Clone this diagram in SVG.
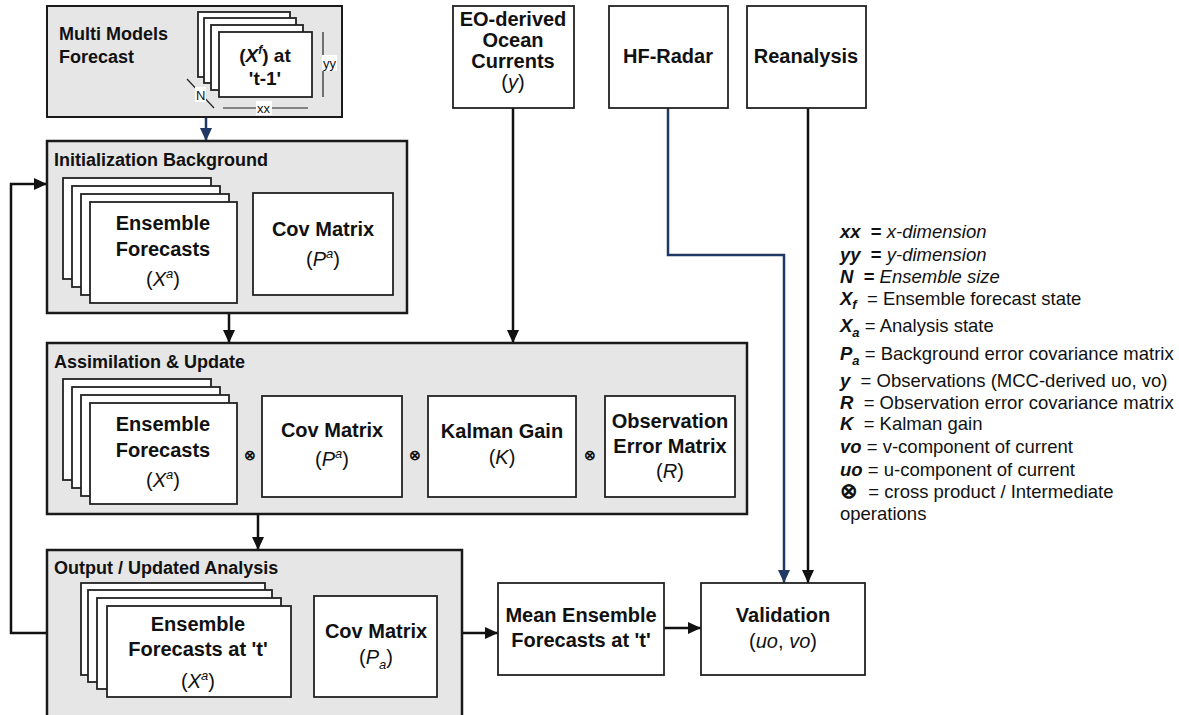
<svg xmlns="http://www.w3.org/2000/svg" width="1179" height="715" viewBox="0 0 1179 715">
<style>
text{font-family:"Liberation Sans",Arial,sans-serif;fill:#111}
.grp{fill:#e6e6e6;stroke:#1a1a1a;stroke-width:2.5}
.box{fill:#fff;stroke:#222;stroke-width:1.8}
.title{font-size:18px;font-weight:bold}
.lbl{font-size:20px;font-weight:bold;text-anchor:middle}
.sym{font-size:20px;text-anchor:middle}
.small{font-size:13px}
.otimes{font-size:14px;font-weight:bold;text-anchor:middle}
.leg{font-size:18.5px}
.leg text{white-space:pre}
.b{font-weight:bold;font-style:italic}
.it{font-style:italic}
.con{fill:none;stroke:#111;stroke-width:2.5}
.navy{fill:none;stroke:#203864;stroke-width:2.5}
.thin{stroke:#222;stroke-width:1.2;fill:none}
</style>
<defs>
<marker id="ah" markerUnits="userSpaceOnUse" markerWidth="14" markerHeight="12" refX="13" refY="6" orient="auto"><path d="M0,0 L13,6 L0,12 Z" fill="#111"/></marker>
<marker id="ahn" markerUnits="userSpaceOnUse" markerWidth="14" markerHeight="12" refX="13" refY="6" orient="auto"><path d="M0,0 L13,6 L0,12 Z" fill="#203864"/></marker>
</defs>

<g id="connectors">
<path class="navy" d="M206,117 V141" marker-end="url(#ahn)"/>
<path class="con" d="M229,313 V343" marker-end="url(#ah)"/>
<path class="con" d="M513,108 V343" marker-end="url(#ah)"/>
<path class="con" d="M258,514 V550" marker-end="url(#ah)"/>
<path class="con" d="M47,633 H11 V184 H47" marker-end="url(#ah)"/>
<path class="con" d="M462,633 H498" marker-end="url(#ah)"/>
<path class="con" d="M664,628 H701" marker-end="url(#ah)"/>
<path class="navy" d="M668,108 V255 H784 V583" marker-end="url(#ahn)"/>
<path class="con" d="M808,108 V583" marker-end="url(#ah)"/>
</g>

<g id="multi-models">
<rect class="grp" x="47" y="6" width="295" height="111" style="stroke-width:2"/>
<text class="title" x="59" y="40">Multi Models</text>
<text class="title" x="59" y="63">Forecast</text>
<rect class="box" x="198" y="12" width="92" height="65"/>
<rect class="box" x="204" y="18" width="92" height="65"/>
<rect class="box" x="211" y="25" width="92" height="65"/>
<rect class="box" x="219" y="32" width="93" height="65"/>
<text class="lbl" x="265" y="62" style="font-size:19px">(<tspan class="it">X</tspan><tspan font-size="12" dy="-8" class="it">f</tspan><tspan dy="8">) at</tspan></text>
<text class="lbl" x="265" y="85" style="font-size:19px">'t-1'</text>
<line class="thin" x1="323" y1="32" x2="323" y2="97"/>
<rect x="322" y="55" width="15" height="16" fill="#fff"/>
<text class="small" x="323" y="68">yy</text>
<line class="thin" x1="223" y1="108" x2="308" y2="108"/>
<rect x="256" y="101" width="16" height="14" fill="#fff"/>
<text class="small" x="257" y="113">xx</text>
<line class="thin" x1="187" y1="79" x2="214" y2="108"/>
<rect x="195" y="87" width="11" height="15" fill="#fff"/>
<text class="small" x="196" y="100">N</text>
</g>

<g id="init-background">
<rect class="grp" x="47" y="141" width="360" height="172"/>
<text class="title" x="54" y="166">Initialization Background</text>
<rect class="box" x="63" y="178" width="148" height="101"/>
<rect class="box" x="72" y="186" width="148" height="101"/>
<rect class="box" x="81" y="194" width="148" height="101"/>
<rect class="box" x="90" y="202" width="147" height="101"/>
<text class="lbl" x="163" y="230">Ensemble</text>
<text class="lbl" x="163" y="256">Forecasts</text>
<text class="sym" x="163" y="286">(<tspan class="it">X</tspan><tspan class="it" font-size="13" dy="-8">a</tspan><tspan dy="8">)</tspan></text>
<rect class="box" x="253" y="193" width="140" height="102"/>
<text class="lbl" x="323" y="236">Cov Matrix</text>
<text class="sym" x="323" y="266">(<tspan class="it">P</tspan><tspan class="it" font-size="13" dy="-8">a</tspan><tspan dy="8">)</tspan></text>
</g>

<g id="assimilation">
<rect class="grp" x="47" y="343" width="700" height="171"/>
<text class="title" x="54" y="368">Assimilation &amp; Update</text>
<rect class="box" x="63" y="379" width="148" height="101"/>
<rect class="box" x="72" y="387" width="148" height="101"/>
<rect class="box" x="81" y="395" width="148" height="101"/>
<rect class="box" x="90" y="403" width="147" height="101"/>
<text class="lbl" x="163" y="431">Ensemble</text>
<text class="lbl" x="163" y="457">Forecasts</text>
<text class="sym" x="163" y="487">(<tspan class="it">X</tspan><tspan class="it" font-size="13" dy="-8">a</tspan><tspan dy="8">)</tspan></text>
<text class="otimes" x="250" y="460">⊗</text>
<rect class="box" x="262" y="396" width="140" height="101"/>
<text class="lbl" x="332" y="437">Cov Matrix</text>
<text class="sym" x="332" y="466">(<tspan class="it">P</tspan><tspan class="it" font-size="13" dy="-8">a</tspan><tspan dy="8">)</tspan></text>
<text class="otimes" x="415" y="460">⊗</text>
<rect class="box" x="428" y="396" width="148" height="101"/>
<text class="lbl" x="502" y="438">Kalman Gain</text>
<text class="sym" x="502" y="464">(<tspan class="it">K</tspan>)</text>
<text class="otimes" x="590" y="460">⊗</text>
<rect class="box" x="605" y="396" width="130" height="101"/>
<text class="lbl" x="670" y="428">Observation</text>
<text class="lbl" x="670" y="453">Error Matrix</text>
<text class="sym" x="670" y="478">(<tspan class="it">R</tspan>)</text>
</g>

<g id="output-analysis">
<rect class="grp" x="47" y="550" width="415" height="170"/>
<text class="title" x="54" y="574">Output / Updated Analysis</text>
<rect class="box" x="81" y="583" width="184" height="92"/>
<rect class="box" x="88" y="590" width="184" height="92"/>
<rect class="box" x="97" y="598" width="184" height="91"/>
<rect class="box" x="107" y="606" width="184" height="91"/>
<text class="lbl" x="198" y="631">Ensemble</text>
<text class="lbl" x="198" y="656">Forecasts at 't'</text>
<text class="sym" x="198" y="688">(<tspan class="it">X</tspan><tspan class="it" font-size="13" dy="-8">a</tspan><tspan dy="8">)</tspan></text>
<rect class="box" x="314" y="596" width="123" height="101"/>
<text class="lbl" x="376" y="638">Cov Matrix</text>
<text class="sym" x="376" y="664">(<tspan class="it">P</tspan><tspan class="it" font-size="13" dy="5">a</tspan><tspan dy="-5">)</tspan></text>
</g>

<g id="eo-currents">
<rect class="box" x="453" y="6" width="121" height="102"/>
<text class="lbl" x="513" y="26">EO-derived</text>
<text class="lbl" x="513" y="47">Ocean</text>
<text class="lbl" x="513" y="68">Currents</text>
<text class="sym" x="513" y="89">(<tspan class="it">y</tspan>)</text>
</g>

<g id="hf-radar">
<rect class="box" x="609" y="6" width="119" height="102"/>
<text class="lbl" x="668" y="63">HF-Radar</text>
</g>

<g id="reanalysis">
<rect class="box" x="747" y="6" width="119" height="102"/>
<text class="lbl" x="806" y="63">Reanalysis</text>
</g>

<g id="mean-ensemble">
<rect class="box" x="498" y="583" width="166" height="92"/>
<text class="lbl" x="581" y="622">Mean Ensemble</text>
<text class="lbl" x="581" y="647">Forecasts at 't'</text>
</g>

<g id="validation">
<rect class="box" x="701" y="583" width="164" height="92"/>
<text class="lbl" x="783" y="622">Validation</text>
<text class="sym" x="783" y="648">(<tspan class="it">uo</tspan>, <tspan class="it">vo</tspan>)</text>
</g>

<g id="legend" class="leg">
<text xml:space="preserve" x="840" y="238"><tspan class="b">xx</tspan><tspan font-weight="bold">  = </tspan><tspan class="it">x-dimension</tspan></text>
<text xml:space="preserve" x="840" y="261"><tspan class="b">yy</tspan><tspan font-weight="bold">  = </tspan><tspan class="it">y-dimension</tspan></text>
<text xml:space="preserve" x="840" y="283"><tspan class="b">N</tspan><tspan font-weight="bold">  = </tspan><tspan class="it">Ensemble size</tspan></text>
<text xml:space="preserve" x="840" y="305"><tspan class="b">X</tspan><tspan class="b" font-size="13" dy="4">f</tspan><tspan dy="-4">  = Ensemble forecast state</tspan></text>
<text xml:space="preserve" x="840" y="332"><tspan class="b">X</tspan><tspan class="b" font-size="13" dy="5">a</tspan><tspan dy="-5"> = Analysis state</tspan></text>
<text xml:space="preserve" x="840" y="360"><tspan class="b">P</tspan><tspan class="b" font-size="13" dy="5">a</tspan><tspan dy="-5"> = Background error covariance matrix</tspan></text>
<text xml:space="preserve" x="840" y="387"><tspan class="b">y</tspan>  = Observations (MCC-derived uo, vo)</text>
<text xml:space="preserve" x="840" y="409"><tspan class="b">R</tspan>  = Observation error covariance matrix</text>
<text xml:space="preserve" x="840" y="430"><tspan class="b">K</tspan>  = Kalman gain</text>
<text xml:space="preserve" x="840" y="453"><tspan class="b">vo</tspan> = v-component of current</text>
<text xml:space="preserve" x="840" y="476"><tspan class="b">uo</tspan> = u-component of current</text>
<text xml:space="preserve" x="840" y="498"><tspan font-weight="bold" font-size="21">⊗</tspan>  = cross product / Intermediate</text>
<text xml:space="preserve" x="840" y="520">operations</text>
</g>
</svg>
